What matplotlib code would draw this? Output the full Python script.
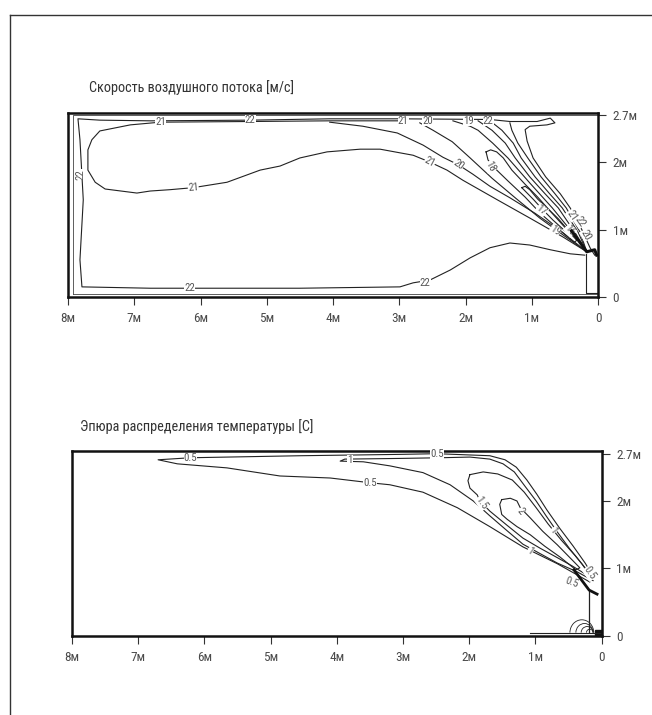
import numpy as np
import matplotlib
matplotlib.use("Agg")
import matplotlib.pyplot as plt
from matplotlib import font_manager
from matplotlib.lines import Line2D
from matplotlib.patches import Arc, Rectangle

names = {f.name for f in font_manager.fontManager.ttflist}
family = [f for f in ['Liberation Sans Narrow', 'Roboto Condensed', 'Arial Narrow', 'Roboto'] if f in names]
plt.rcParams['font.family'] = family + ['DejaVu Sans']

# ---- axis ticks
x_ticks = [8, 7, 6, 5, 4, 3, 2, 1, 0]
x_labels = ['8м', '7м', '6м', '5м', '4м', '3м', '2м', '1м', '0']
y_ticks = [0, 1, 2, 2.7]
y_labels = ['0', '1м', '2м', '2.7м']

title_top = 'Скорость воздушного потока [м/с]'
title_bot = 'Эпюра распределения температуры [C]'

# ---- top panel: air velocity contours (x in m from right wall, y in m)
v22_x = [0.20, 0.42, 0.72, 1.03, 1.33, 1.63, 1.93, 2.23, 2.54, 2.79, 2.99, 4.50, 6.76, 7.79, 7.82, 7.77,
         7.82, 7.85, 7.52, 6.76, 5.25, 4.05, 2.99, 1.63, 1.33, 0.92, 0.72, 0.65, 0.77, 1.03, 1.10, 1.07,
         0.98, 0.79, 0.57, 0.42, 0.24, 0.12, 0.05]
v22_y = [0.62, 0.64, 0.70, 0.77, 0.80, 0.73, 0.58, 0.40, 0.25, 0.21, 0.15, 0.13, 0.13, 0.15, 0.55, 1.44,
         2.33, 2.64, 2.62, 2.61, 2.62, 2.64, 2.64, 2.63, 2.60, 2.60, 2.65, 2.58, 2.55, 2.53, 2.48, 2.31,
         2.06, 1.78, 1.53, 1.32, 0.99, 0.73, 0.62]
v21_x = [2.99, 4.05, 5.25, 6.61, 7.06, 7.52, 7.64, 7.70, 7.70, 7.59, 7.44, 6.96, 6.76, 6.46, 6.11, 5.60,
         5.10, 4.80, 4.50, 4.09, 3.59, 3.29, 2.79, 2.54, 2.28, 2.04, 1.52, 1.03, 0.53, 0.17]
v21_y = [2.61, 2.61, 2.60, 2.59, 2.55, 2.46, 2.33, 2.18, 1.88, 1.70, 1.60, 1.54, 1.57, 1.59, 1.62, 1.70,
         1.88, 1.94, 2.06, 2.15, 2.19, 2.19, 2.10, 2.00, 1.88, 1.73, 1.44, 1.17, 0.89, 0.67]
v20_x = [4.05, 3.55, 3.03, 2.64, 2.34, 2.11, 1.89, 1.63, 1.33, 0.95, 0.54, 0.17]
v20_y = [2.59, 2.53, 2.43, 2.25, 2.07, 1.96, 1.82, 1.64, 1.47, 1.24, 0.96, 0.67]
v19_x = [2.69, 2.49, 2.20, 1.93, 1.60, 1.25, 0.88, 0.50, 0.17]
v19_y = [2.58, 2.47, 2.30, 2.06, 1.76, 1.47, 1.17, 0.90, 0.67]
fan_c_x = [2.19, 1.93, 1.81, 1.59, 1.36, 1.03, 0.69, 0.39, 0.17]
fan_c_y = [2.61, 2.53, 2.47, 2.28, 2.06, 1.69, 1.32, 0.96, 0.67]
fan_d_x = [1.81, 1.60, 1.40, 1.25, 1.03, 0.80, 0.60, 0.35, 0.17]
fan_d_y = [2.61, 2.47, 2.28, 2.06, 1.78, 1.53, 1.32, 0.96, 0.67]
fan_e_x = [1.63, 1.45, 1.28, 1.16, 0.95, 0.73, 0.54, 0.30, 0.17]
fan_e_y = [2.61, 2.47, 2.28, 2.06, 1.78, 1.53, 1.32, 0.96, 0.67]
fan_f_x = [1.33, 1.30, 1.21, 1.06, 0.86, 0.65, 0.48, 0.27, 0.17]
fan_f_y = [2.58, 2.47, 2.28, 2.06, 1.78, 1.53, 1.32, 0.96, 0.67]
v18_x = [1.69, 1.62, 1.53, 1.43, 1.30, 1.10, 0.91, 0.71, 0.48, 0.32, 0.36, 0.60, 0.86, 1.10, 1.36, 1.56, 1.66, 1.69]
v18_y = [2.15, 2.18, 2.15, 2.06, 1.88, 1.67, 1.48, 1.26, 1.01, 0.84, 0.81, 1.01, 1.23, 1.48, 1.72, 1.91, 2.03, 2.15]
v17_x = [1.15, 1.10, 1.03, 0.91, 0.77, 0.60, 0.45, 0.50, 0.68, 0.83, 0.97, 1.09, 1.15]
v17_y = [1.62, 1.64, 1.59, 1.45, 1.32, 1.16, 0.99, 0.98, 1.14, 1.29, 1.44, 1.56, 1.62]
# dark jet core next to the supply outlet
jet1_x = [0.40, 0.17, 0.05, 0.02]
jet1_y = [0.98, 0.67, 0.70, 0.62]

v_labels = ['22', '22', '22', '22', '21', '21', '21', '21', '20', '20', '19', '22', '18', '17', '19', '16', '21', '22', '20']
v_lab_x = [7.82, 6.16, 2.61, 5.25, 6.60, 6.11, 2.54, 2.94, 2.11, 2.57, 1.96, 1.66, 1.63, 0.85, 0.65, 0.42, 0.39, 0.27, 0.18]
v_lab_y = [1.81, 0.13, 0.21, 2.62, 2.60, 1.62, 2.00, 2.61, 1.96, 2.61, 2.61, 2.61, 1.93, 1.29, 0.98, 0.99, 1.21, 1.11, 0.92]
v_lab_rot = [90, 0, 0, 0, 0, 5, -28, 0, -35, 0, 0, 0, -62, -38, -35, -50, -55, -55, -60]

# inlet (supply unit) outline
inlet_x = [0.18, 0.18, 0.02]
inlet_y = [0.64, 0.06, 0.06]

# ---- bottom panel: temperature contours
t05_x = [0.18, 0.67, 1.19, 1.69, 2.18, 2.70, 3.20, 3.50, 4.10, 4.86, 5.66, 6.41, 6.70, 6.21, 4.55, 3.05,
         2.49, 1.69, 1.46, 1.29, 1.13, 0.98, 0.83, 0.63, 0.43, 0.25, 0.12]
t05_y = [0.80, 1.07, 1.32, 1.62, 1.90, 2.13, 2.24, 2.27, 2.34, 2.37, 2.49, 2.55, 2.61, 2.64, 2.67, 2.69,
         2.70, 2.67, 2.61, 2.50, 2.31, 2.10, 1.87, 1.59, 1.33, 1.08, 0.87]
t1_x = [0.13, 0.37, 0.67, 0.93, 1.19, 1.43, 1.69, 1.94, 2.29, 2.70, 3.20, 3.60, 3.95, 3.88, 3.05, 2.44,
        1.99, 1.69, 1.49, 1.32, 1.16, 0.99, 0.84, 0.67, 0.49, 0.30, 0.15]
t1_y = [0.82, 0.95, 1.08, 1.22, 1.36, 1.56, 1.78, 2.00, 2.24, 2.42, 2.52, 2.58, 2.59, 2.62, 2.63, 2.64,
        2.65, 2.62, 2.55, 2.43, 2.22, 2.00, 1.78, 1.54, 1.30, 1.07, 0.86]
t15_x = [1.99, 1.79, 1.57, 1.35, 1.17, 0.99, 0.81, 0.61, 0.40, 0.21, 0.25, 0.45, 0.67, 0.93, 1.19, 1.43,
         1.69, 1.84, 1.88, 1.99, 2.02, 1.99]
t15_y = [2.39, 2.43, 2.40, 2.31, 2.13, 1.90, 1.66, 1.42, 1.19, 0.96, 0.92, 1.04, 1.16, 1.30, 1.45, 1.64,
         1.85, 2.00, 2.09, 2.19, 2.30, 2.39]
t2_x = [1.51, 1.38, 1.28, 1.23, 1.08, 0.89, 0.67, 0.48, 0.33, 0.39, 0.63, 0.86, 1.08, 1.28, 1.43, 1.51, 1.54, 1.51]
t2_y = [2.02, 2.04, 2.00, 1.90, 1.75, 1.55, 1.35, 1.16, 1.01, 0.98, 1.17, 1.33, 1.50, 1.62, 1.73, 1.80, 1.95, 2.02]
jet2_x = [0.42, 0.19, 0.07]
jet2_y = [0.98, 0.68, 0.62]

t_labels = ['0.5', '1', '0.5', '0.5', '1.5', '2', '1', '1', '0.5', '0.5']
t_lab_x = [6.21, 3.80, 2.49, 3.50, 1.81, 1.22, 0.73, 1.08, 0.45, 0.18]
t_lab_y = [2.64, 2.61, 2.70, 2.27, 1.97, 1.85, 1.56, 1.26, 0.79, 0.93]
t_lab_rot = [0, 0, 0, 0, -55, -50, -55, -35, -20, -55]

inlet2_x = [0.19, 0.19]
inlet2_y = [0.68, 0.06]
floor2_x = [1.08, 0.0]
floor2_y = [0.045, 0.045]
swirl_cx = [0.30, 0.26, 0.22, 0.18]
swirl_w = [0.36, 0.26, 0.18, 0.10]
swirl_h = [0.38, 0.27, 0.18, 0.10]

LC = '#222222'
TC = '#4a4a4a'

fig = plt.figure(figsize=(6.52, 7.15), dpi=100)

# page frame (top and left edge)
fig.add_artist(Line2D([10 / 652, 1], [1 - 15 / 715, 1 - 15 / 715], color='#333333', lw=1.0))
fig.add_artist(Line2D([10 / 652, 10 / 652], [0, 1 - 15 / 715], color='#333333', lw=1.0))

fig.text(89 / 652, 1 - 88 / 715, title_top, fontsize=10.3, color='#333333', va='center')
fig.text(80 / 652, 1 - 427 / 715, title_bot, fontsize=10.3, color='#333333', va='center')

ax1 = fig.add_axes([67.5 / 652, 1 - 297 / 715, 530.5 / 652, 184 / 715])
ax2 = fig.add_axes([71.5 / 652, 1 - 636 / 715, 530.2 / 652, 185 / 715])


def style(ax, ytop):
    ax.set_xlim(8.008, 0)
    ax.set_ylim(0, ytop)
    for s in ax.spines.values():
        s.set_linewidth(1.8)
        s.set_color('#111111')
    ax.set_xticks(x_ticks)
    ax.set_xticklabels(x_labels)
    ax.set_yticks(y_ticks)
    ax.set_yticklabels(y_labels)
    ax.yaxis.tick_right()
    ax.tick_params(axis='x', direction='out', length=6, width=0.8, pad=5,
                   labelsize=9.5, colors='#333333', labelcolor=TC)
    ax.tick_params(axis='y', direction='out', length=5.5, width=0.8, pad=5,
                   labelsize=9.5, colors='#333333', labelcolor=TC)


def labels(ax, txt, xs, ys, rots):
    for s, x, y, r in zip(txt, xs, ys, rots):
        ax.text(x, y, s, rotation=r, ha='center', va='center', fontsize=7.8, color='#555555',
                bbox=dict(fc='white', ec='none', pad=0.1), zorder=5)


style(ax1, 2.726)
style(ax2, 2.74)

# top panel
ax1.plot([7.93, 7.93, 0.0], [0.04, 2.69, 2.69], color='#444444', lw=0.6)
ax1.plot([7.93, 0.0], [0.04, 0.04], color='#444444', lw=0.6)
for xs, ys in [(v22_x, v22_y), (v21_x, v21_y), (v20_x, v20_y), (v19_x, v19_y),
               (fan_c_x, fan_c_y), (fan_d_x, fan_d_y), (fan_e_x, fan_e_y), (fan_f_x, fan_f_y),
               (v18_x, v18_y), (v17_x, v17_y)]:
    ax1.plot(xs, ys, color=LC, lw=0.8)
ax1.plot(inlet_x, inlet_y, color=LC, lw=0.8)
ax1.plot(jet1_x, jet1_y, color='#111111', lw=2.2, zorder=6)
labels(ax1, v_labels, v_lab_x, v_lab_y, v_lab_rot)

# bottom panel
for xs, ys in [(t05_x, t05_y), (t1_x, t1_y), (t15_x, t15_y), (t2_x, t2_y)]:
    ax2.plot(xs, ys, color=LC, lw=0.8)
ax2.plot(inlet2_x, inlet2_y, color=LC, lw=0.9)
ax2.plot(floor2_x, floor2_y, color=LC, lw=0.8)
ax2.plot(jet2_x, jet2_y, color='#111111', lw=2.0, zorder=6)
for cx, w, h in zip(swirl_cx, swirl_w, swirl_h):
    ax2.add_patch(Arc((cx, 0.05), w, h, theta1=0, theta2=180, color=LC, lw=0.6))
ax2.add_patch(Rectangle((0.0, 0.02), 0.1, 0.07, color='#111111'))
labels(ax2, t_labels, t_lab_x, t_lab_y, t_lab_rot)

fig.savefig('out.png', dpi=100)
